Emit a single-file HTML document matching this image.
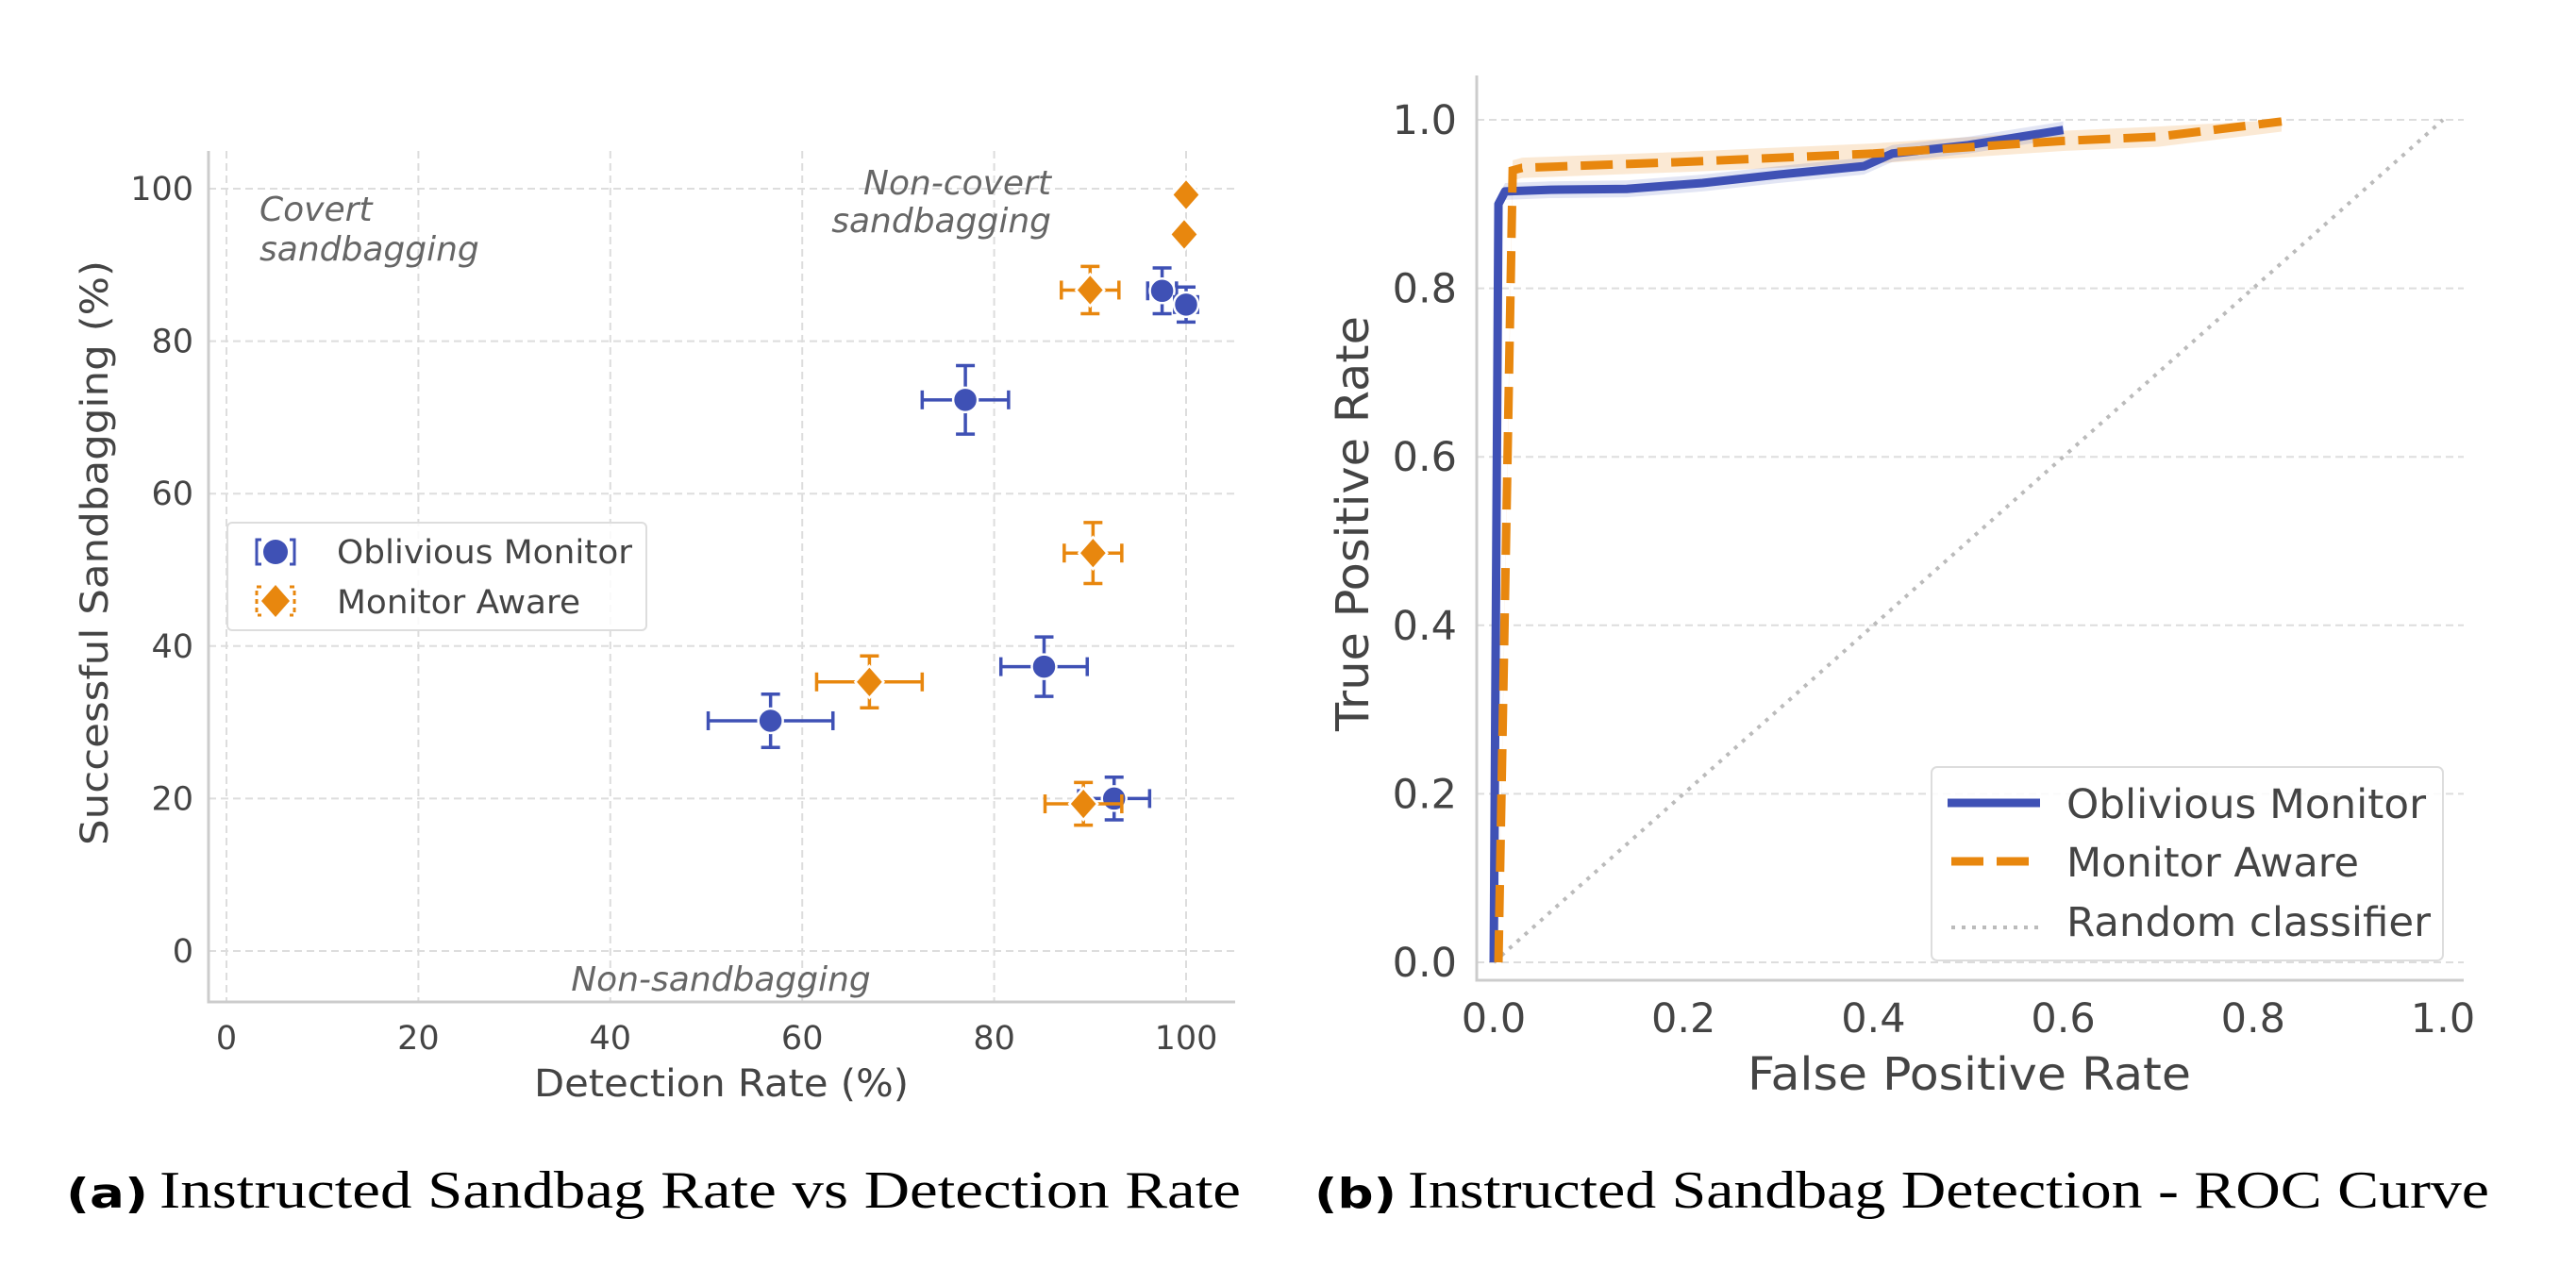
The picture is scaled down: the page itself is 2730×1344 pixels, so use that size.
<!DOCTYPE html>
<html><head><meta charset="utf-8"><style>
html,body{margin:0;padding:0;background:#fff;}
svg{display:block;font-family:"DejaVu Sans","Liberation Sans",sans-serif;}
</style></head><body>
<svg id="root" width="2730" height="1344" viewBox="0 0 2730 1344" xmlns="http://www.w3.org/2000/svg">
<g id="left"></g>
<g id="right"></g>
<text x="70" y="1280" font-family="DejaVu Sans, sans-serif" font-weight="bold" font-size="44" fill="#000" textLength="87" lengthAdjust="spacingAndGlyphs">(a)</text>
<text x="169" y="1280" font-family="Liberation Serif, serif" font-size="56" fill="#000" textLength="1146" lengthAdjust="spacingAndGlyphs">Instructed Sandbag Rate vs Detection Rate</text>
<text x="1393" y="1280" font-family="DejaVu Sans, sans-serif" font-weight="bold" font-size="44" fill="#000" textLength="87" lengthAdjust="spacingAndGlyphs">(b)</text>
<text x="1492" y="1280" font-family="Liberation Serif, serif" font-size="56" fill="#000" textLength="1146" lengthAdjust="spacingAndGlyphs">Instructed Sandbag Detection - ROC Curve</text>
</svg>
<script>
const NS="http://www.w3.org/2000/svg";
const BLUE="#3f51b5", ORANGE="#e8870e", TXT="#444";
// ---- left chart data ----
const xTicksA=[0,20,40,60,80,100];
const yTicksA=[0,20,40,60,80,100];
const oblX=[56.7,77,85.2,92.5,97.5,100];
const oblY=[30.2,72.3,37.3,20,86.6,84.8];
const oblXErr=[6.5,4.5,4.5,3.7,1.5,1.2];
const oblYErr=[3.5,4.5,3.9,2.8,3,2.3];
const awX=[67,89.3,90.3,90,99.8,100];
const awY=[35.3,19.3,52.2,86.7,94,99.2];
const awXErr=[5.5,4,3,3,0,0];
const awYErr=[3.4,2.8,4,3.1,0,0];
// ---- right chart data ----
const rocTicks=[0,0.2,0.4,0.6,0.8,1.0];
const oblFpr=[0,0.005,0.012,0.06,0.14,0.22,0.3,0.39,0.42,0.5,0.6];
const oblTpr=[0,0.9,0.915,0.917,0.918,0.925,0.935,0.945,0.96,0.97,0.988];
const awFpr=[0.005,0.02,0.03,0.2,0.4,0.6,0.7,0.83];
const awTpr=[0,0.94,0.943,0.95,0.96,0.975,0.98,0.998];

function el(parent,tag,attrs,text){const e=document.createElementNS(NS,tag);for(const k in attrs)e.setAttribute(k,attrs[k]);if(text!==undefined)e.textContent=text;parent.appendChild(e);return e;}

// Left axes
const L=document.getElementById('left');
const ax=v=>240+(v)*10.17, ay=v=>1008-(v)*8.08;
xTicksA.forEach(t=>{const g=el(L,'line',{x1:ax(t),x2:ax(t),y1:160,y2:1062,stroke:'#ddd','stroke-width':2,'stroke-dasharray':'8,5'});
 const tx=el(L,'text',{x:ax(t),y:1112,'text-anchor':'middle','font-size':35,fill:TXT},String(t));});
yTicksA.forEach(t=>{const g=el(L,'line',{x1:221,x2:1309,y1:ay(t),y2:ay(t),stroke:'#ddd','stroke-width':2,'stroke-dasharray':'8,5'});
 const tx=el(L,'text',{x:205,y:ay(t)+12,'text-anchor':'end','font-size':35,fill:TXT},String(t));});
let s=el(L,'path',{d:'M221,160 V1062 H1309',fill:'none',stroke:'#ccc','stroke-width':3});
s=el(L,'text',{x:566,y:1162,'font-size':40,fill:TXT,textLength:397,lengthAdjust:'spacingAndGlyphs'},'Detection Rate (%)');
s=el(L,'text',{x:0,y:0,transform:'translate(114,586) rotate(-90)','text-anchor':'middle','font-size':40,fill:TXT,textLength:620,lengthAdjust:'spacingAndGlyphs'},'Successful Sandbagging (%)');
[['Covert',275,234],['sandbagging',275,276]].forEach(a=>{const t=el(L,'text',{x:a[1],y:a[2],'font-size':36,'font-style':'italic',fill:'#666'},a[0]);});
[['Non-covert',1114,206],['sandbagging',1114,246]].forEach(a=>{const t=el(L,'text',{x:a[1],y:a[2],'text-anchor':'end','font-size':36,'font-style':'italic',fill:'#666'},a[0]);});
s=el(L,'text',{x:764,y:1050,'text-anchor':'middle','font-size':36,'font-style':'italic',fill:'#666'},'Non-sandbagging');

function errbar(g,x,y,xe,ye,c){
 if(xe>0){el(g,'line',{x1:ax(x-xe),x2:ax(x+xe),y1:ay(y),y2:ay(y),stroke:c,'stroke-width':3.5});
  el(g,'line',{x1:ax(x-xe),x2:ax(x-xe),y1:ay(y)-10,y2:ay(y)+10,stroke:c,'stroke-width':3.5});
  el(g,'line',{x1:ax(x+xe),x2:ax(x+xe),y1:ay(y)-10,y2:ay(y)+10,stroke:c,'stroke-width':3.5});}
 if(ye>0){el(g,'line',{x1:ax(x),x2:ax(x),y1:ay(y-ye),y2:ay(y+ye),stroke:c,'stroke-width':3.5});
  el(g,'line',{x1:ax(x)-10,x2:ax(x)+10,y1:ay(y-ye),y2:ay(y-ye),stroke:c,'stroke-width':3.5});
  el(g,'line',{x1:ax(x)-10,x2:ax(x)+10,y1:ay(y+ye),y2:ay(y+ye),stroke:c,'stroke-width':3.5});}
}
oblX.forEach((x,i)=>{const g=el(L,'g',{});
 errbar(g,x,oblY[i],oblXErr[i],oblYErr[i],BLUE);el(g,'circle',{cx:ax(x),cy:ay(oblY[i]),r:13,fill:BLUE,stroke:'#fff','stroke-width':2.5});});
awX.forEach((x,i)=>{const g=el(L,'g',{});
 errbar(g,x,awY[i],awXErr[i],awYErr[i],ORANGE);const cx=ax(x),cy=ay(awY[i]);
 el(g,'polygon',{points:`${cx},${cy-17} ${cx+15},${cy} ${cx},${cy+17} ${cx-15},${cy}`,fill:ORANGE,stroke:'#fff','stroke-width':2.5});});
// left legend
const lg=el(L,'g',{});
el(lg,'rect',{x:241,y:554,width:444,height:114,rx:5,fill:'#fff','fill-opacity':0.85,stroke:'#ddd','stroke-width':2});
el(lg,'circle',{cx:292,cy:585,r:13,fill:BLUE});el(lg,'path',{d:'M277,572 h-5 v26 h5 M307,572 h5 v26 h-5',fill:'none',stroke:BLUE,'stroke-width':3});
el(lg,'polygon',{points:'292,620 307,637 292,654 277,637',fill:ORANGE});
el(lg,'path',{d:'M277,622 h-5 v30 h5 M307,622 h5 v30 h-5',fill:'none',stroke:ORANGE,'stroke-width':3,'stroke-dasharray':'5,4'});
let t1=el(lg,'text',{x:357,y:597,'font-size':35,fill:TXT,textLength:313,lengthAdjust:'spacingAndGlyphs'},'Oblivious Monitor');
let t2=el(lg,'text',{x:357,y:650,'font-size':35,fill:TXT,textLength:258,lengthAdjust:'spacingAndGlyphs'},'Monitor Aware');

// Right axes
const R=document.getElementById('right');
const rx=v=>1583+v*1006, ry=v=>1020-v*893;
rocTicks.forEach(t=>{const g=el(R,'line',{x1:1565,x2:2611,y1:ry(t),y2:ry(t),stroke:'#ddd','stroke-width':2,'stroke-dasharray':'8,5'});
 const a=el(R,'text',{x:rx(t),y:1094,'text-anchor':'middle','font-size':43,fill:TXT},t.toFixed(1));
 const b=el(R,'text',{x:1544,y:ry(t)+15,'text-anchor':'end','font-size':43,fill:TXT},t.toFixed(1));});
s=el(R,'path',{d:'M1565,80 V1039 H2611',fill:'none',stroke:'#ccc','stroke-width':3});
s=el(R,'text',{x:1852,y:1155,'font-size':48,fill:TXT,textLength:470,lengthAdjust:'spacingAndGlyphs'},'False Positive Rate');
s=el(R,'text',{x:0,y:0,transform:'translate(1450,555) rotate(-90)','text-anchor':'middle','font-size':48,fill:TXT,textLength:440,lengthAdjust:'spacingAndGlyphs'},'True Positive Rate');
s=el(R,'line',{x1:rx(0),y1:ry(0),x2:rx(1),y2:ry(1),stroke:'#bbb','stroke-width':4,'stroke-dasharray':'4,7'});
function pts(xs,ys,dy){return xs.map((x,i)=>`${rx(x)},${ry(ys[i]+dy)}`).join(' ');}
function band(xs,ys,c,w){const up=xs.map((x,i)=>`${rx(x)},${ry(Math.min(1,ys[i]+w))}`);const dn=xs.map((x,i)=>`${rx(x)},${ry(Math.max(0,ys[i]-w))}`).reverse();return up.concat(dn).join(' ');}
s=el(R,'polygon',{points:band(awFpr,awTpr,ORANGE,0.012),fill:ORANGE,'fill-opacity':0.18});
s=el(R,'polygon',{points:band(oblFpr,oblTpr,BLUE,0.01),fill:BLUE,'fill-opacity':0.15});
s=el(R,'polyline',{points:pts(oblFpr,oblTpr,0),fill:'none',stroke:BLUE,'stroke-width':9,'stroke-linejoin':'round'});
s=el(R,'polyline',{points:pts(awFpr,awTpr,0),fill:'none',stroke:ORANGE,'stroke-width':9,'stroke-dasharray':'34,14'});
const rg=el(R,'g',{});
el(rg,'rect',{x:2047,y:813,width:542,height:205,rx:6,fill:'#fff','fill-opacity':0.85,stroke:'#ddd','stroke-width':2});
el(rg,'line',{x1:2064,x2:2162,y1:851,y2:851,stroke:BLUE,'stroke-width':9});
el(rg,'line',{x1:2068,x2:2162,y1:913,y2:913,stroke:ORANGE,'stroke-width':9,'stroke-dasharray':'34,14'});
el(rg,'line',{x1:2068,x2:2162,y1:983,y2:983,stroke:'#bbb','stroke-width':4,'stroke-dasharray':'4,7'});
[['Oblivious Monitor',867,'legend-entry-oblivious',381],['Monitor Aware',929,'legend-entry-aware',310],['Random classifier',992,'legend-entry-random',386]].forEach(a=>{const t=el(rg,'text',{x:2190,y:a[1],'font-size':43,fill:TXT,textLength:a[3],lengthAdjust:'spacingAndGlyphs'},a[0]);});
</script>
</body></html>
